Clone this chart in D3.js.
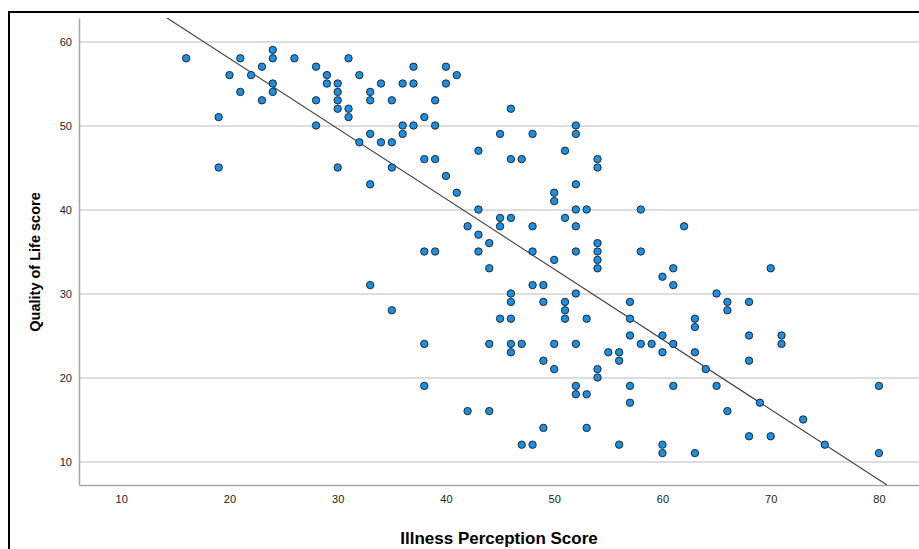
<!DOCTYPE html>
<html>
<head>
<meta charset="utf-8">
<script src="https://cdn.jsdelivr.net/npm/d3@7"></script>
<style>
  body { margin: 0; background: #fff; }
  svg { display: block; font-family: "Liberation Sans", Arial, sans-serif; }
</style>
</head>
<body>
<div class="chart"></div>
<script>
// illness perception score (x) and quality of life score (y), one entry per case
var illnessScores = [
  16, 19, 19, 20, 21, 21, 22, 23, 23, 24, 24, 24, 24, 26, 28, 28, 28, 29, 29, 30,
  30, 30, 30, 30, 31, 31, 31, 32, 32, 33, 33, 33, 33, 34, 34, 35, 35, 35, 36, 36,
  36, 37, 37, 37, 38, 38, 39, 39, 39, 40, 40, 41, 40, 41, 42, 43, 43, 43, 44, 45,
  45, 45, 46, 46, 46, 47, 48, 48, 50, 50, 51, 51, 52, 52, 52, 52, 52, 53, 54, 54,
  54, 58, 62, 38, 39, 33, 35, 38, 38, 43, 44, 48, 50, 52, 54, 54, 54, 58, 60, 61,
  61, 48, 49, 46, 46, 49, 51, 52, 57, 45, 46, 51, 51, 53, 57, 57, 60, 44, 46, 47,
  50, 52, 58, 59, 61, 46, 55, 56, 56, 60, 49, 50, 54, 54, 52, 52, 53, 57, 61, 57,
  42, 44, 49, 53, 47, 48, 56, 60, 60, 70, 65, 66, 66, 68, 63, 63, 68, 71, 71, 63,
  68, 64, 65, 80, 69, 66, 73, 68, 70, 75, 63, 80
];
var qolScores = [
  58, 51, 45, 56, 58, 54, 56, 57, 53, 59, 58, 55, 54, 58, 57, 53, 50, 56, 55, 55,
  54, 53, 52, 45, 58, 52, 51, 56, 48, 54, 53, 49, 43, 55, 48, 53, 48, 45, 55, 50,
  49, 57, 55, 50, 51, 46, 53, 50, 46, 57, 55, 56, 44, 42, 38, 47, 40, 37, 36, 49,
  39, 38, 52, 46, 39, 46, 49, 38, 42, 41, 47, 39, 50, 49, 43, 40, 38, 40, 46, 45,
  36, 40, 38, 35, 35, 31, 28, 24, 19, 35, 33, 35, 34, 35, 35, 34, 33, 35, 32, 33,
  31, 31, 31, 30, 29, 29, 29, 30, 29, 27, 27, 28, 27, 27, 27, 25, 25, 24, 24, 24,
  24, 24, 24, 24, 24, 23, 23, 23, 22, 23, 22, 21, 21, 20, 19, 18, 18, 19, 19, 17,
  16, 16, 14, 14, 12, 12, 12, 12, 11, 33, 30, 29, 28, 29, 27, 26, 25, 25, 24, 23,
  22, 21, 19, 19, 17, 16, 15, 13, 13, 12, 11, 11
];
var xTicks = [10, 20, 30, 40, 50, 60, 70, 80];
var yTicks = [10, 20, 30, 40, 50, 60];

// fit line at total
var fitIntercept = 74.7;
var fitSlope = -0.836;

var xTitle = "Illness Perception Score";
var yTitle = "Quality of Life score";

var svgWidth = 919;
var svgHeight = 549;

// plot area (the original picture is cropped on the right)
var plot = { left: 79, top: 18, right: 919, bottom: 485 };

var points = illnessScores.map(function(d, i) {
  return { x: d, y: qolScores[i] };
});

var xScale = d3.scaleLinear().domain([6.1, 83.7]).range([plot.left, plot.right]);
var yScale = d3.scaleLinear().domain([7.2, 62.8]).range([plot.bottom, plot.top]);

var svg = d3.select(".chart")
  .append("svg")
    .attr("width", svgWidth)
    .attr("height", svgHeight);

// outer frame of the chart window
svg.append("rect")
  .attr("x", 9)
  .attr("y", 12)
  .attr("width", 1000)
  .attr("height", 1000)
  .attr("fill", "none")
  .attr("stroke", "#000")
  .attr("stroke-width", 2);

svg.append("clipPath")
  .attr("id", "plot-clip")
  .append("rect")
    .attr("x", plot.left)
    .attr("y", plot.top)
    .attr("width", plot.right - plot.left)
    .attr("height", plot.bottom - plot.top);

// horizontal gridlines
svg.append("g")
  .attr("class", "grid")
  .attr("transform", "translate(" + plot.left + ",0)")
  .call(d3.axisLeft(yScale).tickValues(yTicks).tickSize(-(plot.right - plot.left)).tickFormat(""))
  .call(function(g) { g.select(".domain").remove(); })
  .selectAll("line")
    .attr("stroke", "#d2d2d2")
    .attr("stroke-width", 1.3);

// y axis
var yAxis = svg.append("g")
  .attr("transform", "translate(" + plot.left + ",0)")
  .call(d3.axisLeft(yScale).tickValues(yTicks).tickSize(0).tickPadding(7));

// x axis
var xAxis = svg.append("g")
  .attr("transform", "translate(0," + plot.bottom + ")")
  .call(d3.axisBottom(xScale).tickValues(xTicks).tickSize(0).tickPadding(10));

[xAxis, yAxis].forEach(function(ax) {
  ax.select(".domain").attr("stroke", "#a6a6a6").attr("stroke-width", 1.5);
  ax.selectAll("text")
    .attr("fill", "#222")
    .attr("font-size", "11px")
    .attr("font-family", "'Liberation Sans', Arial, sans-serif");
});

// fit line, clipped to the plot area
var fitX = [
  (yScale.domain()[1] - fitIntercept) / fitSlope,
  (yScale.domain()[0] - fitIntercept) / fitSlope
];

svg.append("line")
  .attr("clip-path", "url(#plot-clip)")
  .attr("x1", xScale(fitX[0]))
  .attr("y1", yScale(fitIntercept + fitSlope * fitX[0]))
  .attr("x2", xScale(fitX[1]))
  .attr("y2", yScale(fitIntercept + fitSlope * fitX[1]))
  .attr("stroke", "#3c3c3c")
  .attr("stroke-width", 1.1);

// scatter points
svg.append("g")
  .selectAll("circle")
  .data(points)
  .enter()
  .append("circle")
    .attr("cx", function(d) { return xScale(d.x); })
    .attr("cy", function(d) { return yScale(d.y); })
    .attr("r", 3.7)
    .attr("fill", "#1a8fe3")
    .attr("stroke", "#1f2a33")
    .attr("stroke-width", 1);

// axis titles
svg.append("text")
  .attr("x", 499)
  .attr("y", 544)
  .attr("text-anchor", "middle")
  .attr("font-size", "17px")
  .attr("font-weight", "bold")
  .attr("fill", "#000")
  .text(xTitle);

svg.append("text")
  .attr("transform", "translate(40,262) rotate(-90)")
  .attr("text-anchor", "middle")
  .attr("font-size", "14.5px")
  .attr("font-weight", "bold")
  .attr("fill", "#000")
  .text(yTitle);
</script>
</body>
</html>
